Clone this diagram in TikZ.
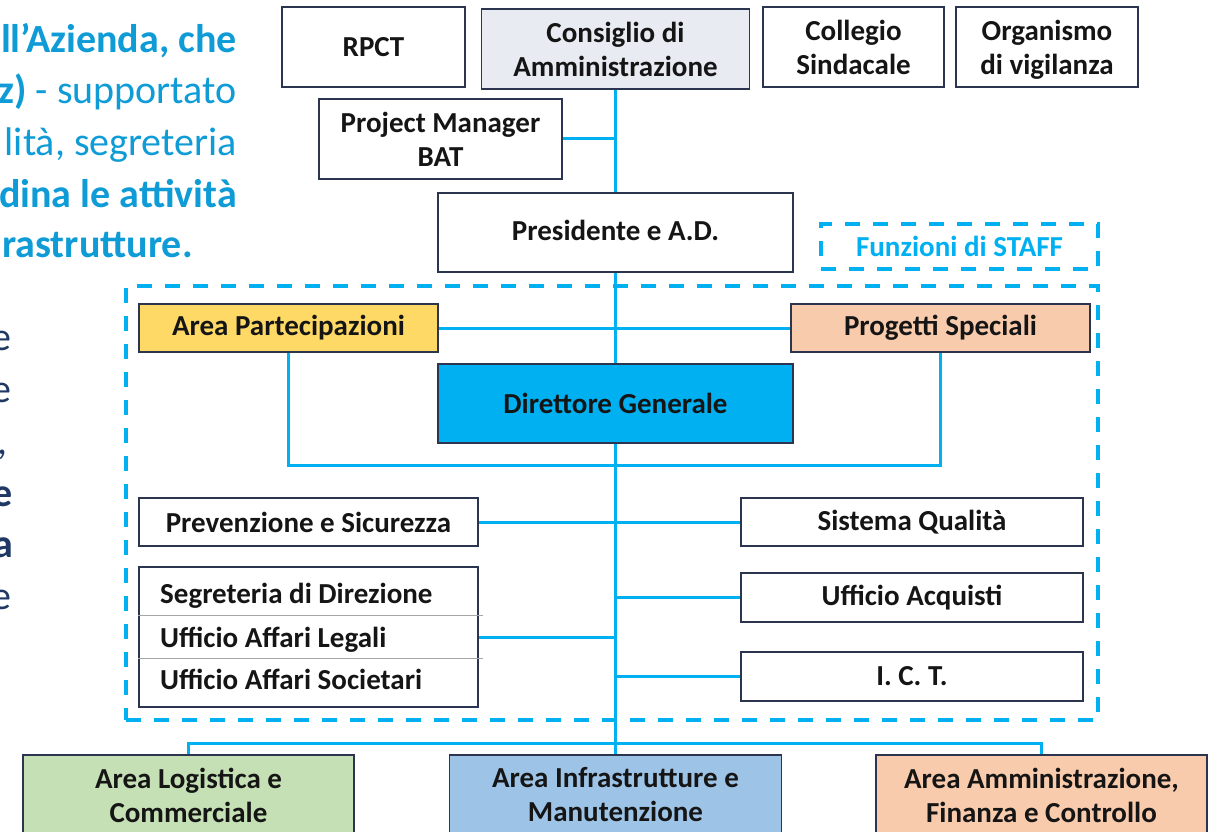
\documentclass[tikz,border=0pt]{standalone}
\usepackage{fontspec}
\setmainfont{Carlito}
\definecolor{lc}{HTML}{00B0F0}
\definecolor{bc}{HTML}{2B3550}
\definecolor{tc}{HTML}{151515}
\definecolor{lb}{HTML}{0E9BD6}
\definecolor{nv}{HTML}{1F3864}
\definecolor{cdafill}{HTML}{E9EBF3}
\definecolor{apfill}{HTML}{FFD966}
\definecolor{psfill}{HTML}{F8CBAD}
\definecolor{dgfill}{HTML}{00B0F0}
\definecolor{alfill}{HTML}{C5E0B4}
\definecolor{aifill}{HTML}{9DC3E6}
\definecolor{affill}{HTML}{F8CBAD}
\tikzset{
 conn/.style={draw=lc, line width=3pt},
 box/.style={draw=bc, line width=1.5pt, fill=white, inner sep=0pt, align=center, text=tc, font=\bfseries\fontsize{29}{34}\selectfont},
 dbox/.style={draw=lc, line width=3.5pt, dash pattern=on 15pt off 13pt, inner sep=0pt},
 divider/.style={draw=gray!70, line width=1pt},
 lefttxt/.style={inner sep=0pt, anchor=base east, text=lb, font=\fontsize{40}{48}\selectfont},
 navytxt/.style={inner sep=0pt, anchor=base east, text=nv, font=\fontsize{40}{48}\selectfont},
 plaintxt/.style={inner sep=0pt, anchor=base west, text=tc, font=\bfseries\fontsize{29}{34}\selectfont},
}
\begin{document}
\begin{tikzpicture}[x=1pt,y=-1pt]
\path[use as bounding box] (0,0) rectangle (1218,832);
\clip (0,0) rectangle (1218,832);

% left paragraph fragments
\node[lefttxt] (t1) at (237,53) {\bfseries ll’Azienda, che};
\node[lefttxt] (t2) at (237,104) {{\bfseries z)} - supportato};
\node[lefttxt] (t3) at (237,156) {lità, segreteria};
\node[lefttxt] (t4) at (237,207) {\bfseries dina le attività};
\node[lefttxt] (t5) at (193,257) {\bfseries rastrutture.};

\node[navytxt] (n1) at (12,350) {e};
\node[navytxt] (n2) at (12,402) {e};
\node[navytxt] (n3) at (8,454) {,};
\node[navytxt] (n4) at (13,506) {\bfseries e};
\node[navytxt] (n5) at (13,557) {\bfseries a};
\node[navytxt] (n6) at (12,609) {e};

% dashed staff areas
\node[dbox, minimum width=972pt, minimum height=434pt] (staffarea) at (612,503) {};
\node[dbox, minimum width=277pt, minimum height=45pt, text=lc, font=\bfseries\fontsize{29}{34}\selectfont] (staff) at (959.5,246.5) {Funzioni di STAFF};

% top row
\node[box, minimum width=183pt, minimum height=80pt] (rpct) at (373.5,47) {RPCT};
\node[box, fill=cdafill, minimum width=268pt, minimum height=80pt] (cda) at (615.5,49) {Consiglio di\\Amministrazione};
\node[box, minimum width=181pt, minimum height=80pt] (coll) at (853.5,47) {Collegio\\Sindacale};
\node[box, minimum width=182pt, minimum height=80pt] (odv) at (1047,47) {Organismo\\\smash{di vigilanza}};
\node[box, minimum width=243pt, minimum height=80pt] (pm) at (440.5,139) {Project Manager\\BAT};
\node[box, minimum width=355pt, minimum height=79pt] (pres) at (615.5,232.5) {\raisebox{4pt}{Presidente e A.D.}};

% staff boxes
\node[box, fill=apfill, minimum width=299pt, minimum height=48pt] (ap) at (288.5,328) {Area Partecipazioni};
\node[box, fill=psfill, minimum width=299pt, minimum height=48pt] (ps) at (940.5,328) {Progetti Speciali};
\node[box, fill=dgfill, minimum width=355pt, minimum height=79pt] (dg) at (615.5,403.5) {Direttore Generale};

\node[box, minimum width=339pt, minimum height=48pt] (prev) at (308.5,522) {Prevenzione e Sicurezza};
\node[box, minimum width=339pt, minimum height=140pt] (grp) at (308.5,637) {};
\node[plaintxt] (seg) at (160,603) {Segreteria di Direzione};
\node[plaintxt] (leg) at (160,647) {Ufficio Affari Legali};
\node[plaintxt] (soc) at (160,689) {Ufficio Affari Societari};
\coordinate (d1) at (0,615);
\coordinate (d2) at (0,658);
\draw[divider] (grp.west |- d1) -- ([xshift=4pt]grp.east |- d1);
\draw[divider] (grp.west |- d2) -- ([xshift=4pt]grp.east |- d2);

\node[box, minimum width=342pt, minimum height=48pt] (sq) at (912,522) {Sistema Qualità};
\node[box, minimum width=342pt, minimum height=49pt] (ua) at (912,597.5) {Ufficio Acquisti};
\node[box, minimum width=342pt, minimum height=49pt] (ict) at (912,676.5) {I. C. T.};

% bottom row
\node[box, fill=alfill, minimum width=331pt, minimum height=80pt] (alc) at (188.5,795) {Area Logistica e\\Commerciale};
\node[box, fill=aifill, minimum width=332pt, minimum height=80pt] (aim) at (615.5,795) {Area Infrastrutture e\\Manutenzione};
\node[box, fill=affill, minimum width=331pt, minimum height=80pt] (afc) at (1041.5,795) {Area Amministrazione,\\Finanza e Controllo};

% connectors
\coordinate (lp) at (0,465);
\coordinate (bj) at (615.5,743);
\draw[conn] (cda.south) -- (pres.north);
\draw[conn] (pm.east) -- (pm.east -| cda.south);
\draw[conn] (pres.south) -- (dg.north);
\draw[conn] (ap.east) -- (ps.west);
\draw[conn] (ap.south) -- (ap.south |- lp) -- (ps.south |- lp) -- (ps.south);
\draw[conn] (dg.south) -- (bj);
\draw[conn] (prev.east) -- (sq.west);
\draw[conn] (grp.east) -- (grp.east -| bj);
\draw[conn] (ua.west) -- (ua.west -| bj);
\draw[conn] (ict.west) -- (ict.west -| bj);
\draw[conn] (alc.north) -- (alc.north |- bj) -- (afc.north |- bj) -- (afc.north);
\draw[conn] (bj) -- (aim.north);
\end{tikzpicture}
\end{document}
